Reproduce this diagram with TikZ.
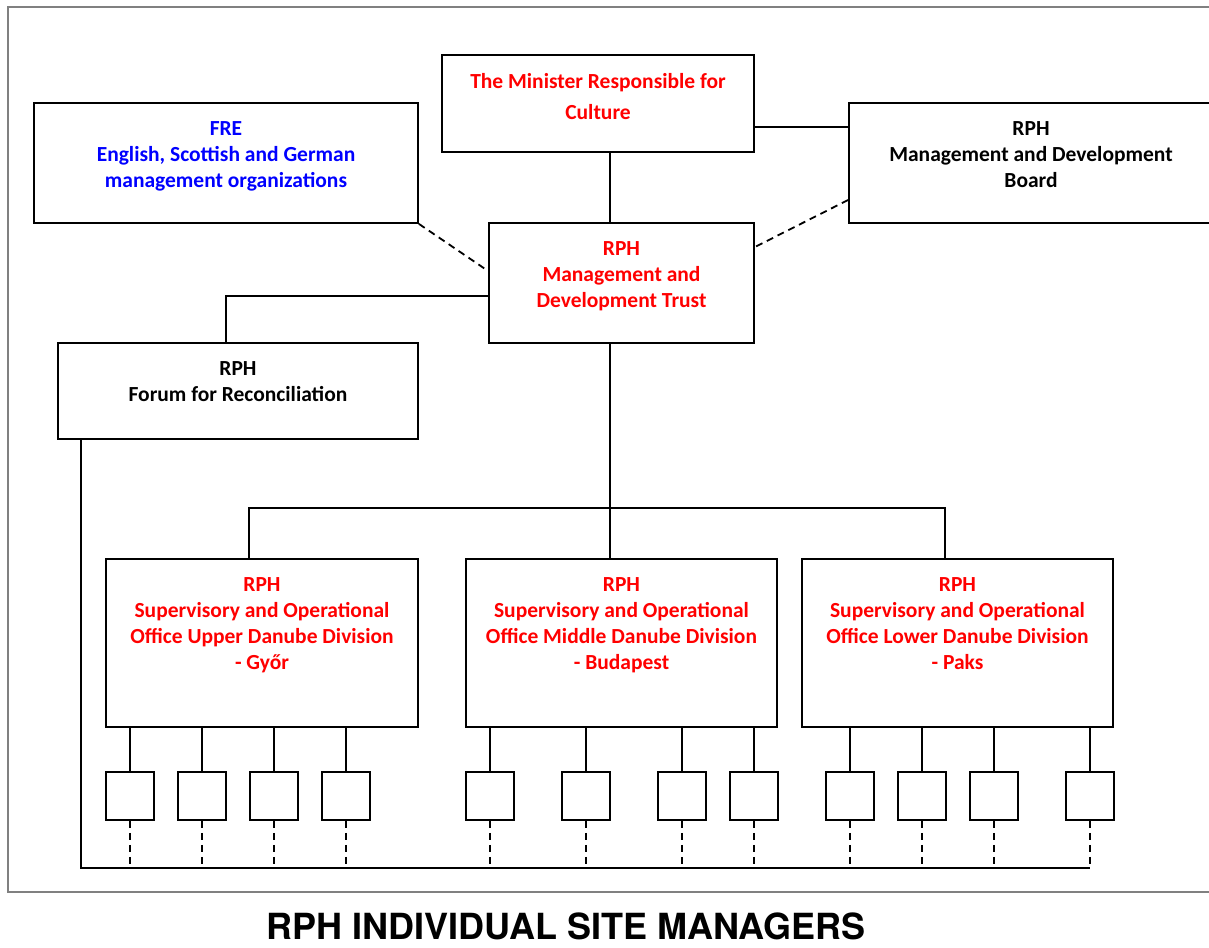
\documentclass[tikz,border=0pt]{standalone}
\usepackage{fontspec}
\setmainfont{Carlito}
\newfontfamily\titlefont{TeX Gyre Heros}
\usetikzlibrary{positioning}
\definecolor{orgred}{HTML}{FF0000}
\definecolor{orgblue}{HTML}{0000FF}

\begin{document}
\begin{tikzpicture}[x=1pt, y=-1pt,
    box/.style={draw, line width=1.8pt, inner sep=0pt},
    site/.style={box, minimum width=48pt, minimum height=48pt},
    lbl/.style={anchor=north, yshift=-19.5pt, align=center, inner sep=0pt, font=\fontsize{21.5}{26}\selectfont\bfseries},
    conn/.style={line width=1.8pt},
    dconn/.style={line width=1.8pt, dash pattern=on 7pt off 5pt}
]
\useasboundingbox (0,0) rectangle (1209,947);
\draw[gray, line width=1.2pt] (8,7) rectangle (1216,892);

% top level
\node[box, minimum width=312pt, minimum height=97pt, label={[lbl, text=orgred]north:{The Minister Responsible for\\[5pt]Culture}}] (minister) at (598,103.5) {};
\node[box, minimum width=384pt, minimum height=120pt, label={[lbl, text=orgblue]north:{FRE\\English, Scottish and German\\management organizations}}] (fre) at (226,163) {};
\node[box, minimum width=364pt, minimum height=120pt, label={[lbl]north:{RPH\\Management and Development\\Board}}] (board) at (1031,163) {};
\node[box, minimum width=265pt, minimum height=120pt, label={[lbl, text=orgred]north:{RPH\\Management and\\Development Trust}}] (trust) at (621.5,283) {};
\node[box, minimum width=360pt, minimum height=96pt, label={[lbl]north:{RPH\\Forum for Reconciliation}}] (forum) at (238,391) {};

% divisions
\node[box, minimum width=312pt, minimum height=168pt, label={[lbl, text=orgred]north:{RPH\\Supervisory and Operational\\Office Upper Danube Division\\- Győr}}] (upper) at (262,643) {};
\node[box, minimum width=311pt, minimum height=168pt, label={[lbl, text=orgred]north:{RPH\\Supervisory and Operational\\Office Middle Danube Division\\- Budapest}}] (middle) at (621.5,643) {};
\node[box, minimum width=311pt, minimum height=168pt, label={[lbl, text=orgred]north:{RPH\\Supervisory and Operational\\Office Lower Danube Division\\- Paks}}] (lower) at (957.5,643) {};

% site managers
\foreach \x [count=\i] in {130,202,274,346,490,586,682,754,850,922,994,1090}
    \node[site] (s\i) at (\x,796) {};

\coordinate (bus) at (610,508);
\coordinate (rail) at (0,868);

\draw[conn] ([xshift=12pt]minister.south) -- ([xshift=-11.5pt]trust.north);
\draw[conn] ([yshift=-23.5pt]minister.east) -- ([yshift=36pt]board.west);
\draw[dconn] (fre.south east) -- ([yshift=12pt]trust.west);
\draw[dconn] ([yshift=-37pt]board.west) -- ([yshift=36pt]trust.east);
\draw[conn] ([yshift=-13pt]trust.west) -| ([xshift=-12pt]forum.north);
\draw[conn] ([xshift=-11.5pt]trust.south) -- ([xshift=-11.5pt]middle.north);
\draw[conn] ([xshift=-13pt]upper.north) |- (bus) -| ([xshift=-12.5pt]lower.north);
\draw[conn] ([xshift=24pt]forum.south west) |- (rail -| s12.south);
\foreach \i in {1,...,12} {
    \draw[conn] (s\i.north |- upper.south) -- (s\i.north);
    \draw[dconn] (s\i.south) -- (s\i.south |- rail);
}

\node[font=\titlefont\fontsize{36}{40}\selectfont\bfseries, anchor=base, inner sep=0pt] (title) at (566,939) {RPH INDIVIDUAL SITE MANAGERS};
\end{tikzpicture}
\end{document}
